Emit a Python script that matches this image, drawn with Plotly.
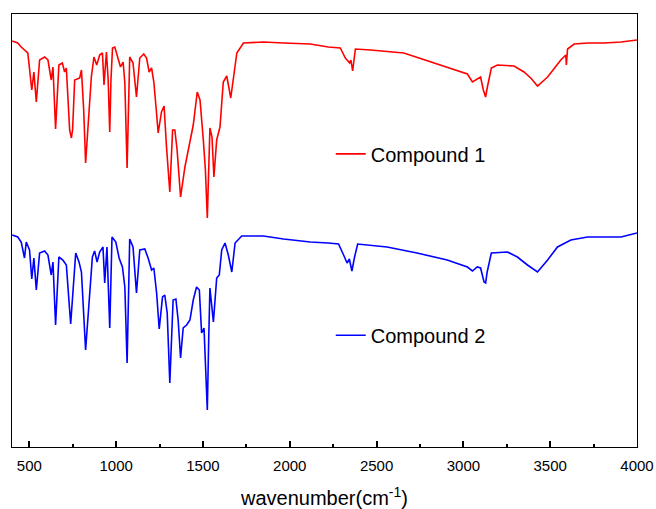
import plotly.graph_objects as go

# Compound 1 (red) spectrum: wavenumber (cm-1) and transmittance (a.u.)
wn1 = [401, 433, 453, 472, 491, 514, 526, 540, 559, 588, 607, 626, 636, 651, 670, 690, 703, 713,
       732, 742, 749, 761, 790, 800, 813, 824, 843, 857, 872, 888, 905, 921, 930, 944, 954, 963,
       970, 979, 992, 1011, 1025, 1040, 1050, 1063, 1071, 1078, 1097, 1117, 1136, 1159, 1175,
       1190, 1204, 1217, 1231, 1242, 1261, 1276, 1290, 1309, 1325, 1338, 1351, 1371, 1396, 1415,
       1444, 1467, 1483, 1502, 1514, 1525, 1533, 1540, 1552, 1563, 1579, 1598, 1617, 1637, 1660,
       1675, 1695, 1733, 1848, 1964, 2118, 2222, 2291, 2320, 2345, 2352, 2362, 2378, 2465, 2657,
       2811, 2945, 3023, 3052, 3076, 3099, 3115, 3128, 3137, 3161, 3196, 3292, 3349, 3388, 3427,
       3485, 3561, 3590, 3593, 3600, 3638, 3715, 3811, 3908, 4000]
t1 = [406, 404, 400, 397, 394, 357, 375, 345, 387, 390, 387, 367, 380, 318, 382, 384, 375, 379,
      317, 309, 317, 367, 369, 377, 337, 284, 330, 370, 390, 382, 392, 394, 362, 395, 367, 315,
      367, 399, 400, 389, 380, 385, 364, 279, 347, 390, 384, 350, 389, 393, 389,
      375, 379, 365, 337, 314, 335, 341, 300, 255, 317, 317, 297, 250, 280, 297,
      322, 355, 347, 307, 277, 229, 267, 319, 310, 270, 307, 320, 365, 371, 349,
      370, 394, 404, 405, 404, 403, 400, 399, 389, 384, 387, 376, 398, 397, 394,
      385, 377, 373, 365, 368, 370, 357, 350, 359, 379, 382, 381, 375, 369, 361,
      370, 387, 392, 382, 398, 403, 404, 404, 405, 407]

# Compound 2 (blue) spectrum
wn2 = [401, 433, 453, 472, 482, 501, 514, 526, 540, 559, 588, 607, 626, 636, 651, 670, 693, 713,
       738, 749, 767, 786, 800, 824, 843, 863, 876, 890, 905, 924, 934, 947, 963, 976, 998, 1017,
       1036, 1050, 1063, 1071, 1078, 1097, 1117, 1136, 1165, 1184, 1204, 1217, 1233, 1248, 1267,
       1280, 1294, 1309, 1328, 1344, 1357, 1371, 1386, 1406, 1425, 1444, 1463, 1479, 1492, 1506,
       1525, 1533, 1540, 1560, 1579, 1594, 1608, 1627, 1646, 1666, 1685, 1723, 1848, 1964, 2118,
       2222, 2281, 2310, 2330, 2343, 2358, 2372, 2391, 2560, 2733, 2907, 3023, 3052, 3080, 3099,
       3119, 3128, 3137, 3161, 3254, 3311, 3369, 3427, 3485, 3542, 3619, 3715, 3811, 3908, 4000]
t2 = [212, 210, 205, 189, 205, 197, 168, 189, 157, 194, 196, 192, 172, 185, 122, 190, 187, 182,
      123, 147, 194, 185, 175, 97, 140, 190, 196, 185, 195, 200, 164, 200, 119, 210, 205, 189,
      180, 160, 84, 147, 208, 200, 154, 197, 198, 189, 177, 179, 154, 118, 150,
      152, 134, 64, 147, 148, 127, 89, 119, 122, 127, 147, 160, 157, 114, 119,
      37, 107, 159, 125, 169, 172, 197, 204, 192, 175, 204, 211, 211, 208, 205,
      204, 203, 192, 184, 188, 176, 189, 203, 200, 194, 187, 180, 176, 180, 179,
      165, 164, 175, 194, 195, 190, 182, 175, 187, 200, 207, 210, 210, 210, 214]

names = ["Compound 1", "Compound 2"]
colors = ["#FF0000", "#0000FF"]
major_ticks = [500, 1000, 1500, 2000, 2500, 3000, 3500, 4000]

fig = go.Figure()
fig.add_trace(go.Scatter(x=wn1, y=t1, mode="lines", name=names[0], showlegend=True,
                         line=dict(color=colors[0], width=1.6), legend="legend"))
fig.add_trace(go.Scatter(x=wn2, y=t2, mode="lines", name=names[1], showlegend=True,
                         line=dict(color=colors[1], width=1.6), legend="legend2"))

font_family = "Liberation Sans, Arial, sans-serif"
fig.update_layout(
    width=656, height=509,
    showlegend=True,
    margin=dict(l=12, r=19, t=14, b=62),
    paper_bgcolor="white", plot_bgcolor="white",
    font=dict(family=font_family, color="black"),
    legend=dict(x=0.51, y=0.677, xanchor="left", yanchor="middle", visible=True,
                bgcolor="rgba(0,0,0,0)", font=dict(size=20, family=font_family),
                itemwidth=30),
    legend2=dict(x=0.51, y=0.258, xanchor="left", yanchor="middle", visible=True,
                 bgcolor="rgba(0,0,0,0)", font=dict(size=20, family=font_family),
                 itemwidth=30),
    xaxis=dict(range=[400, 4000], tickvals=major_ticks, ticks="inside", ticklen=6,
               tickwidth=1.5, tickcolor="black", automargin=False, ticklabelstandoff=5,
               minor=dict(dtick=250, tick0=250, ticks="inside", ticklen=3, tickcolor="black"),
               showline=True, linecolor="black", linewidth=1.2, mirror=True,
               showgrid=False, zeroline=False,
               tickfont=dict(size=15, family=font_family),
               title=dict(text="wavenumber(cm<sup>-1</sup>)", font=dict(size=20, family=font_family),
                          standoff=20)),
    yaxis=dict(range=[0, 433], showticklabels=False, ticks="", showline=True, automargin=False,
               linecolor="black", linewidth=1.2, mirror=True, showgrid=False, zeroline=False),
)

fig.write_html("out.html")
